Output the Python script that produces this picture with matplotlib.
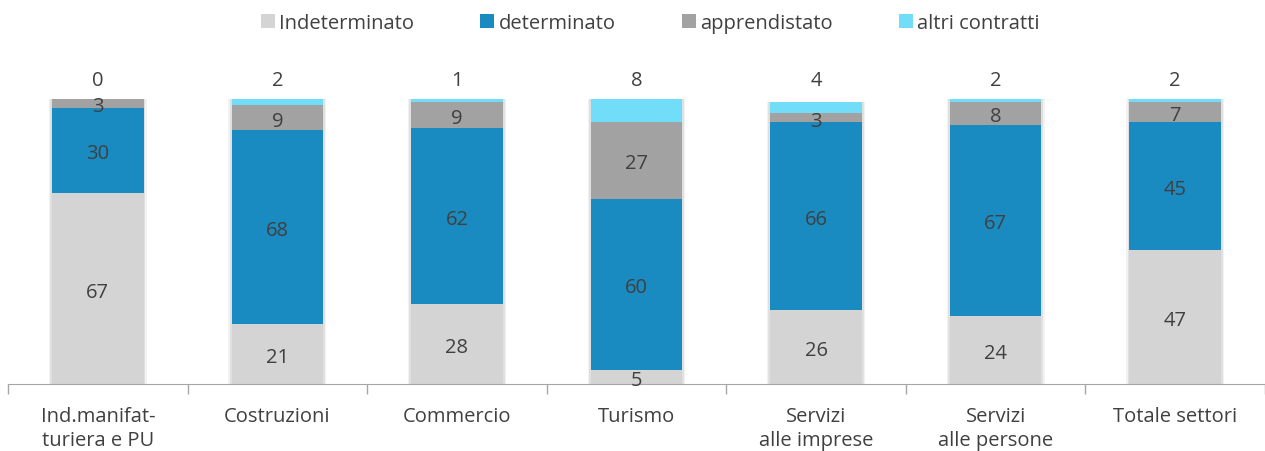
import numpy as np
import matplotlib
matplotlib.use("Agg")
import matplotlib.pyplot as plt

plt.rcParams['font.family'] = ['Open Sans', 'DejaVu Sans']

categories = ["Ind.manifat-\nturiera e PU", "Costruzioni", "Commercio", "Turismo",
              "Servizi\nalle imprese", "Servizi\nalle persone", "Totale settori"]
indeterminato = [67, 21, 28, 5, 26, 24, 47]
determinato = [30, 68, 62, 60, 66, 67, 45]
apprendistato = [3, 9, 9, 27, 3, 8, 7]
altri = [0, 2, 1, 8, 4, 2, 2]

series = [("Indeterminato", indeterminato, "#D4D4D4"),
          ("determinato", determinato, "#1A8BC0"),
          ("apprendistato", apprendistato, "#A2A2A2"),
          ("altri contratti", altri, "#72DDF8")]

txt = "#404040"
fs = 14.5
fig = plt.figure(figsize=(12.65, 4.52), dpi=100)
ax = fig.add_axes([8/1265, 1-385/452, 1-8/1265, 285/452])

x = np.arange(len(categories))
totals = np.sum([s[1] for s in series], axis=0)
# soft shadow behind each stack
for w, a in [(0.545, 0.05), (0.53, 0.07)]:
    ax.bar(x, totals, w, color="k", alpha=a, zorder=1, linewidth=0)

bottom = np.zeros(len(categories))
for name, vals, col in series:
    vals = np.array(vals, dtype=float)
    ax.bar(x, vals, 0.51, bottom=bottom, color=col, label=name, zorder=2, linewidth=0)
    for i, v in enumerate(vals):
        if name == "altri contratti":
            ax.annotate("%d" % v, (x[i], 107), xytext=(0, -1), textcoords="offset points",
                        ha="center", va="center", fontsize=fs, color=txt, annotation_clip=False)
        else:
            ax.annotate("%d" % v, (x[i], bottom[i] + v/2), xytext=(0, -2.2), textcoords="offset points",
                        ha="center", va="center", fontsize=fs, color=txt, zorder=3, annotation_clip=False)
    bottom += vals

ax.set_xlim(-0.5, len(categories) - 0.5)
ax.set_ylim(0, 100)
ax.set_xticks(x)
ax.set_xticklabels(categories, fontsize=fs, color=txt, linespacing=1.25)
ax.set_xticks(np.arange(-0.5, len(categories)), minor=True)
ax.tick_params(axis="x", which="major", length=0, pad=16)
ax.tick_params(axis="x", which="minor", length=7, color="#A6A6A6", width=1)
ax.set_yticks([])
for s in ["left", "right", "top"]:
    ax.spines[s].set_visible(False)
ax.spines["bottom"].set_color("#A6A6A6")

handles, labels = ax.get_legend_handles_labels()
handles = handles[-4:]
labels = labels[-4:]
fig.legend(handles, labels, loc="upper center", bbox_to_anchor=(0.514, 1.01), ncol=4,
           frameon=False, fontsize=fs, handlelength=0.7, handleheight=0.7,
           handletextpad=0.2, columnspacing=3.3, labelcolor=txt)

fig.savefig("out.png", dpi=100)
